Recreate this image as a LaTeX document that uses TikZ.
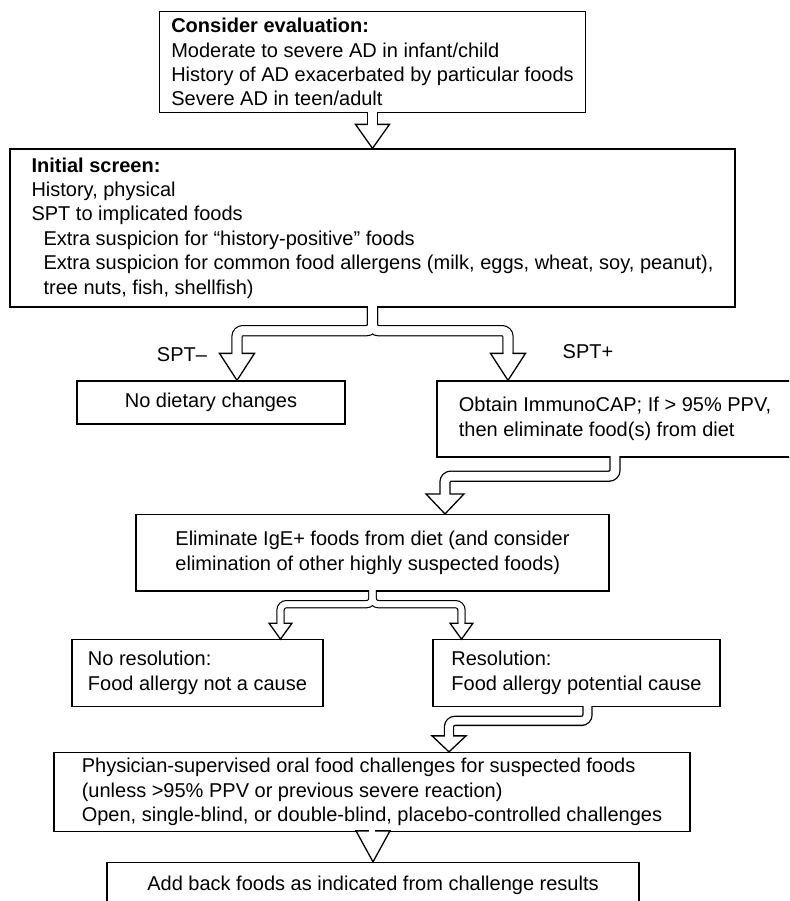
\documentclass[tikz,border=0pt]{standalone}
\usepackage{fontspec}
\setmainfont{Liberation Sans}

\tikzset{
  box/.style={draw, line width=0.65pt, inner sep=0pt, align=left,
    font=\fontsize{10}{12.2}\selectfont},
  lbl/.style={inner sep=0pt, font=\fontsize{10}{12.2}\selectfont},
  % hollow connector: outer walls, then white bore (shaft px, head length px)
  wall/.style n args={2}{line width=#1*0.5pt+0.65pt, shorten >=#2*0.5pt,
    rounded corners=3pt},
  bore/.style n args={2}{white, line width=#1*0.5pt-0.65pt,
    shorten >=#2*0.5pt-1pt, shorten <=-1pt, rounded corners=3pt},
  arrowhead/.style={draw, fill=white, line width=0.65pt},
}
% open triangle head: tip, width, length
\newcommand{\hollowhead}[3]{\draw[arrowhead] (#1) -- ++(-#2/2,-#3) -- ++(#2,0) -- cycle;}

\begin{document}
\begin{tikzpicture}[x=0.5pt, y=-0.5pt]
\useasboundingbox (0,0) rectangle (789,901);
\clip (0,0) rectangle (789,901);

% boxes
\node[box, minimum width=213pt, minimum height=50.5pt] (eval) at (372.5,62.2)
  {\textbf{Consider evaluation:}\\Moderate to severe AD in infant/child\\
   History of AD exacerbated by particular foods\\Severe AD in teen/adult};
\node[box, minimum width=362.5pt, minimum height=79pt] (screen) at (372.5,228)
  {\textbf{Initial screen:}\\History, physical\\SPT to implicated foods\\
   \hspace*{6pt}Extra suspicion for “history-positive” foods\\
   \hspace*{6pt}Extra suspicion for common food allergens (milk, eggs, wheat, soy, peanut),\\
   \hspace*{6pt}tree nuts, fish, shellfish)};
\node[box, minimum width=134pt, minimum height=21.5pt] (nodiet) at (211,402.5)
  {No dietary changes};
\node[box, minimum width=178pt, minimum height=38pt] (capbox) at (615,419)
  {Obtain ImmunoCAP; If > 95\% PPV,\\then eliminate food(s) from diet};
\node[box, minimum width=236.5pt, minimum height=38.2pt] (elim) at (372.5,552.8)
  {Eliminate IgE+ foods from diet (and consider\\elimination of other highly suspected foods)};
\node[box, minimum width=125.5pt, minimum height=33.2pt] (nores) at (197.5,673)
  {No resolution:\\Food allergy not a cause};
\node[box, minimum width=143.5pt, minimum height=33.2pt] (resol) at (576.5,673)
  {Resolution:\\Food allergy potential cause};
\node[box, minimum width=318pt, minimum height=39.5pt] (chall) at (372,792)
  {Physician-supervised oral food challenges for suspected foods\\
   (unless >95\% PPV or previous severe reaction)\\
   Open, single-blind, or double-blind, placebo-controlled challenges};
\node[box, minimum width=266pt, minimum height=22.5pt] (addback) at (373,885)
  {Add back foods as indicated from challenge results};

% branch labels
\node[lbl] (sptneg) at (182,355) {SPT–};
\node[lbl] (sptpos) at (588,352) {SPT+};

% consider evaluation -> initial screen
\draw[wall={10}{24}] (eval.south) -- (screen.north);
\hollowhead{screen.north}{34}{24}
\draw[bore={10}{24}] (eval.south) -- (screen.north);

% initial screen -> SPT- / SPT+
\coordinate (negtip) at ([xshift=13pt]nodiet.north);
\coordinate (postip) at ([xshift=-53.5pt]capbox.north);
\foreach \t in {negtip,postip}
  \draw[wall={10}{27}] (screen.south) -- ++(0,23) -| (\t);
\foreach \t in {negtip,postip}
  \hollowhead{\t}{35}{27}
\foreach \t in {negtip,postip}
  \draw[bore={10}{27}] (screen.south) -- ++(0,23) -| (\t);

% ImmunoCAP -> eliminate
\coordinate (elimtip) at ([xshift=36.25pt]elim.north);
\draw[wall={10}{20}] (capbox.south) -- ++(0,18.5) -| (elimtip);
\hollowhead{elimtip}{38}{20}
\draw[bore={10}{20}] (capbox.south) -- ++(0,18.5) -| (elimtip);

% eliminate -> no resolution / resolution
\coordinate (norestip) at ([xshift=41.5pt]nores.north);
\coordinate (restip) at ([xshift=-57.5pt]resol.north);
\foreach \t in {norestip,restip}
  \draw[wall={7}{16}] (elim.south) -- ++(0,12.5) -| (\t);
\foreach \t in {norestip,restip}
  \hollowhead{\t}{23}{16}
\foreach \t in {norestip,restip}
  \draw[bore={7}{16}] (elim.south) -- ++(0,12.5) -| (\t);

% resolution -> challenges
\coordinate (resout) at ([xshift=5.5pt]resol.south);
\coordinate (challtip) at ([xshift=38.5pt]chall.north);
\draw[wall={9}{16}] (resout) -- ++(0,14) -| (challtip);
\hollowhead{challtip}{34}{16}
\draw[bore={9}{16}] (resout) -- ++(0,14) -| (challtip);

% challenges -> add back (head only)
\hollowhead{addback.north}{34}{31}
\draw[white, line width=3.35pt] ([yshift=1pt]chall.south) -- ([yshift=-1pt]chall.south);
\end{tikzpicture}
\end{document}
